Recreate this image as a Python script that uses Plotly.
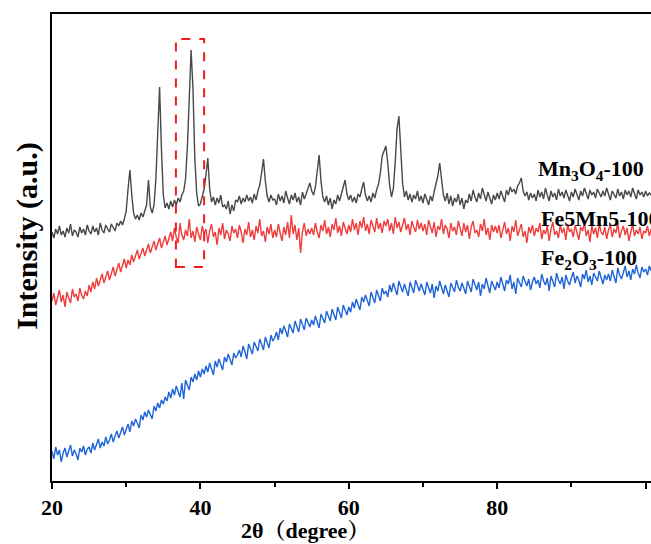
import numpy as np
import plotly.graph_objects as go

# 2-theta grid start / step (degrees)
theta_start = 20.0
theta_step = 0.25

# Intensity readings (a.u.) for each sample, one value per grid step
mn3o4 = [
    249, 243, 252, 247, 255, 246, 250, 244, 253, 248, 257, 245, 251, 249, 244, 254, 248, 252, 246, 256,
    250, 247, 255, 249, 253, 246, 258, 251, 248, 256, 252, 249, 257, 253, 250, 258, 255, 260, 256, 262,
    270, 292, 311, 286, 268, 262, 266, 261, 268, 264, 270, 276, 301, 274, 268, 276, 302, 352, 394, 332,
    286, 273, 278, 272, 280, 274, 281, 276, 283, 279, 286, 290, 302, 335, 388, 431, 392, 322, 288, 275,
    277, 284, 292, 306, 323, 292, 279, 284, 276, 283, 278, 286, 274, 276, 272, 280, 267, 276, 270, 281,
    279, 285, 277, 283, 279, 286, 280, 284, 278, 287, 281, 290, 296, 308, 322, 300, 285, 279, 286, 281,
    282, 276, 287, 280, 285, 278, 290, 283, 277, 286, 281, 288, 279, 284, 276, 289, 282, 287, 293, 298,
    290, 286, 294, 308, 326, 300, 284, 279, 285, 276, 283, 272, 281, 277, 286, 280, 288, 293, 301, 287,
    281, 286, 279, 284, 278, 287, 284, 292, 299, 286, 280, 285, 279, 288, 283, 291, 297, 308, 325, 330,
    335, 318, 296, 284, 292, 318, 352, 365, 330, 298, 284, 290, 281, 287, 279, 286, 282, 290, 280, 285,
    278, 287, 282, 276, 285, 280, 289, 296, 305, 318, 298, 286, 280, 288, 277, 285, 275, 283, 279, 287,
    276, 283, 272, 281, 278, 287, 280, 291, 284, 279, 288, 282, 293, 285, 280, 289, 283, 277, 286, 281,
    288, 282, 290, 284, 279, 291, 286, 294, 289, 292, 287, 295, 298, 303, 290, 285, 289, 281, 288, 283,
    287, 280, 291, 284, 289, 282, 293, 286, 280, 290, 284, 288, 281, 292, 285, 289, 283, 291, 286, 280,
    289, 284, 292, 286, 281, 290, 285, 293, 287, 282, 291, 286, 289, 283, 292, 287, 284, 290, 285, 293,
    286, 281, 290, 287, 283, 292, 285, 289, 282, 291, 286, 290, 284, 293, 288, 282, 291, 286, 289, 284,
    290, 285, 288, 286,
]

fe5mn5 = [
    180, 188, 176, 185, 191, 179, 186, 174, 189, 183, 178, 192, 184, 187, 180, 193, 186, 182, 190, 185,
    196, 189, 199, 192, 203, 195, 200, 207, 198, 204, 210, 201, 207, 214, 205, 211, 218, 209, 215, 222,
    213, 221, 216, 226, 219, 224, 231, 222, 228, 233, 225, 230, 237, 228, 234, 240, 231, 236, 243, 233,
    239, 245, 236, 242, 249, 240, 253, 244, 238, 258, 246, 241, 251, 245, 262, 243, 250, 239, 254, 247,
    241, 255, 247, 252, 238, 250, 257, 244, 249, 236, 253, 246, 258, 242, 251, 247, 240, 255, 248, 252,
    243, 256, 249, 238, 252, 246, 259, 244, 251, 241, 255, 248, 262, 245, 250, 239, 254, 247, 257, 243,
    251, 244, 257, 248, 240, 254, 246, 259, 243, 266, 247, 256, 241, 253, 228, 249, 258, 245, 252, 247,
    253, 246, 258, 249, 243, 256, 250, 261, 247, 254, 244, 257, 251, 263, 248, 255, 245, 259, 252, 247,
    256, 249, 262, 251, 258, 246, 260, 253, 264, 250, 257, 247, 261, 255, 249, 263, 252, 258, 248, 260,
    255, 262, 250, 258, 247, 264, 253, 259, 249, 256, 263, 251, 257, 246, 260, 254, 249, 261, 252, 258,
    250, 257, 246, 261, 253, 248, 259, 244, 255, 251, 262, 247, 256, 252, 243, 258, 250, 254, 246, 260,
    253, 245, 258, 249, 256, 242, 254, 260, 248, 251, 244, 257, 250, 262, 246, 253, 241, 256, 249, 255,
    248, 256, 243, 252, 259, 247, 253, 240, 255, 249, 261, 245, 251, 257, 244, 250, 238, 254, 248, 256,
    245, 253, 249, 258, 242, 251, 247, 255, 240, 252, 259, 246, 250, 243, 256, 248, 253, 241, 257, 249,
    252, 244, 256, 248, 241, 254, 250, 258, 245, 251, 239, 255, 247, 253, 243, 257, 249, 246, 254, 242,
    251, 256, 244, 252, 248, 258, 243, 250, 255, 246, 253, 240, 249, 257, 245, 251, 247, 254, 242, 250,
    248, 255, 245, 252,
]

fe2o3 = [
    30, 22, 34, 26, 31, 19, 28, 33, 24, 29, 36, 25, 31, 27, 21, 33, 29, 35, 26, 32,
    34, 28, 38, 31, 36, 42, 33, 39, 35, 44, 37, 41, 47, 39, 45, 50, 43, 48, 54, 46,
    51, 57, 49, 60, 55, 62, 58, 53, 66, 61, 69, 64, 71, 67, 62, 75, 70, 78, 73, 81,
    77, 84, 80, 89, 83, 92, 86, 95, 90, 84, 98, 82, 101, 96, 91, 104, 99, 107, 101, 110,
    104, 112, 107, 115, 109, 118, 112, 106, 120, 114, 122, 117, 111, 124, 119, 127, 121, 116, 128, 123,
    126, 131, 124, 135, 129, 122, 137, 132, 127, 139, 134, 130, 142, 136, 131, 144, 138, 133, 146, 140,
    143, 149, 141, 153, 147, 155, 150, 144, 157, 152, 148, 160, 154, 149, 162, 156, 151, 163, 158, 154,
    161, 156, 165, 159, 153, 167, 162, 158, 170, 164, 160, 172, 166, 161, 174, 168, 163, 176, 170, 166,
    174, 169, 179, 173, 182, 176, 171, 184, 179, 186, 180, 175, 189, 183, 178, 191, 185, 180, 193, 187,
    190, 184, 196, 189, 198, 192, 186, 200, 194, 189, 197, 191, 185, 199, 193, 188, 201, 195, 190, 197,
    192, 186, 199, 194, 188, 197, 183, 195, 190, 200, 193, 187, 196, 191, 184, 198, 193, 189, 201, 194,
    190, 198, 193, 187, 200, 195, 189, 202, 196, 191, 199, 185, 197, 192, 203, 194, 188, 200, 195, 191,
    199, 193, 204, 196, 190, 201, 197, 206, 192, 199, 187, 203, 198, 194, 205, 200, 195, 202, 191, 199,
    204, 197, 201, 193, 207, 200, 196, 203, 190, 205, 199, 194, 208, 201, 197, 204, 192, 206, 200, 196,
    203, 209, 198, 205, 201, 194, 207, 202, 211, 199, 205, 196, 208, 203, 200, 210, 204, 197, 206, 201,
    207, 200, 211, 205, 198, 213, 206, 202, 209, 215, 204, 210, 201, 212, 207, 216, 208, 203, 214, 209,
    212, 206, 215, 210,
]

series_names = ["Mn<sub>3</sub>O<sub>4</sub>-100", "Fe5Mn5-100", "Fe<sub>2</sub>O<sub>3</sub>-100"]
series_values = [mn3o4, fe5mn5, fe2o3]
series_colors = ["#484848", "#f03c3c", "#1f64d8"]

x_tick_vals = [20, 40, 60, 80, 100]
x_tick_text = ["20", "40", "60", "80", "100"]

# highlighted region (dashed box) around the main Mn3O4 peak
box_x = [36.7, 40.5]
box_y = [214, 442]

# label anchor positions (2theta, intensity)
label_pos = [(85.2, 311), (85.6, 263), (85.7, 222)]

SERIF = "Liberation Serif, Times New Roman, Noto Serif CJK SC, Noto Sans CJK SC, serif"

fig = go.Figure()
for name, vals, col in zip(series_names, series_values, series_colors):
    x = theta_start + theta_step * np.arange(len(vals))
    fig.add_trace(go.Scatter(x=x, y=vals, mode="lines", name=name,
                             line=dict(color=col, width=1.4), showlegend=False))

fig.add_shape(type="rect", x0=box_x[0], x1=box_x[1], y0=box_y[0], y1=box_y[1],
              xref="x", yref="y", line=dict(color="#f01e1e", width=2, dash="dash"))

for name, (lx, ly) in zip(series_names, label_pos):
    fig.add_annotation(x=lx, y=ly, xref="x", yref="y", text="<b>" + name + "</b>",
                       showarrow=False, xanchor="left", yanchor="middle",
                       font=dict(family=SERIF, size=22, color="black"))

fig.add_annotation(xref="paper", yref="paper", x=(305 - 52) / 599, y=(481 - 530) / 467,
                   text="<b>2θ（degree）</b>", showarrow=False,
                   xanchor="center", yanchor="middle",
                   font=dict(family=SERIF, size=22, color="black"))

fig.add_annotation(xref="paper", yref="paper", x=-0.042, y=(481 - 236) / 467,
                   text="<b>Intensity (a.u.)</b>", showarrow=False, textangle=-90,
                   xanchor="center", yanchor="middle",
                   font=dict(family=SERIF, size=30, color="black"))

fig.update_xaxes(range=[20, 20 + 599 / 7.42], showline=True, linewidth=2, linecolor="black",
                 mirror=True, ticks="outside", ticklen=6, tickwidth=2, tickcolor="black",
                 tickvals=x_tick_vals, ticktext=x_tick_text, showgrid=False, zeroline=False,
                 tickfont=dict(family=SERIF, size=22, color="black", weight="bold"),
                 minor=dict(tickvals=[30, 50, 70, 90], ticks="outside", ticklen=4, tickwidth=2,
                            tickcolor="black", showgrid=False))
fig.update_yaxes(range=[0, 467], showline=True, linewidth=2, linecolor="black", mirror=False,
                 showticklabels=False, ticks="", showgrid=False, zeroline=False)

fig.update_layout(width=651, height=544, margin=dict(l=52, r=0, t=14, b=63),
                  plot_bgcolor="white", paper_bgcolor="white")

fig.write_html("out.html", config={"displayModeBar": False},
               post_script="document.body.style.margin='0';document.body.style.overflow='hidden';")
